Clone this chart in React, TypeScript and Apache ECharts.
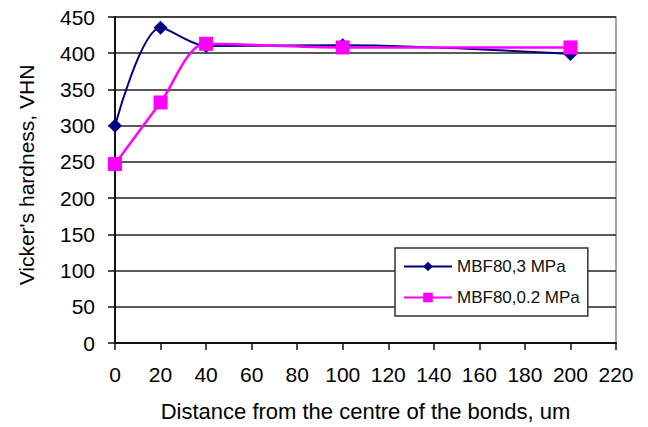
import React, { useEffect, useRef } from "react";
import * as echarts from "echarts";

const distances = [0, 20, 40, 100, 200];
const mbf3 = [300, 435, 410, 411, 399];
const mbf02 = [247, 332, 413, 408, 408];
const seriesNames = ["MBF80,3 MPa", "MBF80,0.2 MPa"];

const FONT = "'Liberation Sans', Arial, sans-serif";

export default function App() {
  const ref = useRef<HTMLDivElement>(null);
  useEffect(() => {
    if (!ref.current) return;
    const chart = echarts.init(ref.current, undefined, { renderer: "svg" });
    chart.setOption({
      animation: false,
      backgroundColor: "#ffffff",
      textStyle: { fontFamily: FONT },
      grid: {
        left: 115,
        right: 32,
        top: 17,
        bottom: 79,
        show: true,
        borderColor: "#8a8a8a",
        borderWidth: 1.5,
        backgroundColor: "transparent",
      },
      legend: {
        orient: "vertical",
        left: 395,
        top: 248,
        width: 195,
        backgroundColor: "#fff",
        borderColor: "#333",
        borderWidth: 1.5,
        padding: [10, 8, 10, 8],
        itemGap: 14,
        itemWidth: 48,
        itemHeight: 12,
        textStyle: { fontFamily: FONT, fontSize: 17, color: "#111" },
        data: seriesNames,
      },
      xAxis: {
        type: "value",
        min: 0,
        max: 220,
        interval: 20,
        name: "Distance from the centre of the bonds, um",
        nameLocation: "middle",
        nameGap: 57,
        nameTextStyle: { fontFamily: FONT, fontSize: 22, color: "#000" },
        axisLine: { show: true, onZero: false, lineStyle: { color: "#111", width: 2 } },
        axisTick: { show: true, length: 7, lineStyle: { color: "#111", width: 1.5 } },
        axisLabel: { fontFamily: FONT, fontSize: 21, color: "#000", margin: 21 },
        splitLine: { show: false },
      },
      yAxis: {
        type: "value",
        min: 0,
        max: 450,
        interval: 50,
        name: "Vicker's hardness, VHN",
        nameLocation: "middle",
        nameGap: 78,
        nameTextStyle: { fontFamily: FONT, fontSize: 21, color: "#000", padding: [0, 0, 0, 10] },
        axisLine: { show: true, lineStyle: { color: "#111", width: 2 } },
        axisTick: { show: true, length: 7, lineStyle: { color: "#111", width: 1.5 } },
        axisLabel: { fontFamily: FONT, fontSize: 21, color: "#000", margin: 20 },
        splitLine: { show: true, lineStyle: { color: "#222", width: 1.5 } },
      },
      series: [
        {
          name: seriesNames[0],
          type: "line",
          data: distances.map((d, i) => [d, mbf3[i]]),
          smooth: 0.3,
          symbol: "diamond",
          symbolSize: 14,
          lineStyle: { color: "#000080", width: 2 },
          itemStyle: { color: "#000080" },
          z: 2,
        },
        {
          name: seriesNames[1],
          type: "line",
          data: distances.map((d, i) => [d, mbf02[i]]),
          smooth: 0.3,
          symbol: "rect",
          symbolSize: 14,
          lineStyle: { color: "#ff00ff", width: 2.5 },
          itemStyle: { color: "#ff00ff" },
          z: 3,
        },
      ],
    });
    return () => chart.dispose();
  }, []);
  return <div ref={ref} style={{ width: 648, height: 427, position: "absolute", left: 0, top: 0 }} />;
}
